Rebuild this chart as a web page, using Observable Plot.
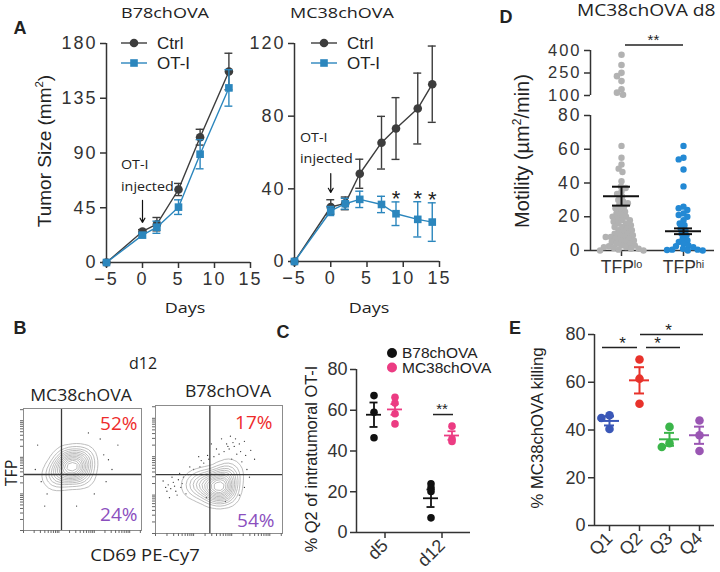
<!DOCTYPE html>
<html><head><meta charset="utf-8">
<script src="https://cdn.jsdelivr.net/npm/d3@7"></script>
<script src="https://cdn.jsdelivr.net/npm/@observablehq/plot@0.6"></script>
<style>
body{margin:0;background:#fff;}
#fig{position:relative;width:720px;height:572px;overflow:hidden;background:#fff;color:#222;}
#fig svg{position:absolute;left:0;top:0;}
.lbl{position:absolute;white-space:nowrap;line-height:1;}
.lbl sup{font-size:.6em;line-height:0;vertical-align:.7em;}
</style></head><body><div id="fig"></div>
<script>
// ---------------- DATA ----------------
// Panel A: tumor growth (mean, SEM)
const dayTicks = [-5, 0, 5, 10, 15];
const b78Days = [-5, 0, 2, 5, 8, 12];
const b78Ctrl = [0, 25.5, 31.5, 60, 103, 157];
const b78CtrlSem = [0, 1.5, 5.5, 5, 6.5, 15];
const b78OTI = [0, 22.5, 29, 45.5, 89, 143.5];
const b78OTISem = [0, 1.5, 5, 6, 12, 15];
const b78YTicks = [0, 45, 90, 135, 180];
const mc38Days = [-5, 0, 2, 4, 7, 9, 12, 14];
const mc38Ctrl = [0, 30, 32, 48.3, 65.4, 73.2, 84.2, 97.6];
const mc38CtrlSem = [0, 4, 3.5, 8, 14.5, 17, 19.5, 21];
const mc38OTI = [0, 27.8, 31.8, 34.2, 31.4, 26.3, 23.2, 21.7];
const mc38OTISem = [0, 2.5, 3, 4.5, 4.5, 6.5, 9.7, 10.6];
const mc38YTicks = [0, 40, 80, 120];
const mc38SigDays = [9, 12, 14];
const injectionDay = 0;
const seriesNames = ["Ctrl", "OT-I"];

// Panel B: flow contour populations (CD69 x, TFP y, arbitrary 0-100 units)
const mc38PopX = [41.5, 31.3, 50.0, 36.4, 49.1, 26.2];
const mc38PopY = [51.6, 47.5, 58.2, 59.0, 45.0, 43.4];
const mc38PopW = [3, 1.5, 1.5, 1, 1, 0.6];
const mc38EventX = [12, 18, 55, 68, 72, 75, 20, 60, 45, 80, 10, 65, 15, 70];
const mc38EventY = [70, 20, 80, 62, 58, 50, 30, 30, 20, 70, 50, 75, 40, 40];
const b78PopX = [51.2, 39.4, 29.9, 57.5, 55.1, 44.9];
const b78PopY = [37.5, 39.1, 37.5, 46.9, 32.0, 31.2];
const b78PopW = [3, 1.5, 0.8, 1.2, 1, 0.8];
const b78EventX = [10, 12, 14, 16, 18, 20, 22, 24, 13, 26, 8, 17, 30, 35, 38, 42, 46, 50, 54, 58, 62, 66, 70, 48, 56, 64, 60, 68, 72, 74, 70, 66, 40, 55, 75, 78, 34, 44, 52, 6, 11, 19, 27, 63, 59, 9, 15, 21, 36, 41, 57, 61, 67, 71];
const b78EventY = [38, 35, 40, 33, 42, 36, 44, 31, 44, 46, 36, 30, 50, 52, 55, 58, 60, 62, 64, 66, 68, 70, 72, 66, 70, 62, 58, 56, 50, 44, 36, 30, 28, 25, 65, 58, 60, 70, 74, 41, 28, 47, 52, 74, 76, 33, 37, 39, 57, 61, 68, 71, 64, 61];
const mc38Gate = [32.2, 45.9];
const b78Gate = [42.8, 46];
const mc38Pct = [52, 24];
const b78Pct = [17, 54];

// Panel C: % Q2 of intratumoral OT-I
const q2Days = ["d5", "d12"];
const q2B78d5 = [67.2, 59.0, 46.5];
const q2B78d12 = [23.9, 21.9, 20.1, 7.2];
const q2MC38d5 = [66.4, 63.5, 58.3, 53.3];
const q2MC38d12 = [52.2, 46.0, 44.7];
const q2B78Mean = [57.8, 16.8], q2B78Sem = [6.0, 4.3];
const q2MC38Mean = [60.4, 47.6], q2MC38Sem = [2.6, 2.1];
const q2Ticks = [0, 20, 40, 60, 80];

// Panel D: motility
const motGroups = ["TFPlo", "TFPhi"];
const motLoHigh = [372, 303, 251, 229, 196, 141, 119, 105];
const motLo = [62, 55, 51, 48.5, 46.5, 41, 38, 37, 35, 33.5, 32, 30, 29, 28, 27, 26, 25, 24, 23, 22, 21, 20, 20, 19, 18, 18, 17, 16, 16, 15, 14, 14, 13, 12, 12, 11, 10, 10, 9, 9, 8, 8, 8, 7, 7, 6, 6, 5, 5, 4, 4, 3, 3, 2.5, 2, 2, 1.5, 1, 1, 0.5, 0, 0];
const motHi = [62, 55, 54, 48, 38, 26, 25, 24, 22, 21, 20, 18, 16, 15, 13, 12, 10, 9, 7, 6, 5, 4, 3, 2.5, 2, 1, 0.5, 0.5, 0.3, 0, 0];
const motMean = [32.2, 11.4];
const motSem = [5.6, 1.7];
const motLowTicks = [0, 20, 40, 60, 80];
const motHighTicks = [100, 250, 400];

// Panel E: killing
const killGroups = ["Q1", "Q2", "Q3", "Q4"];
const killQ1 = [40.4, 46.2, 45.0];
const killQ2 = [69.5, 61.5, 51.0];
const killQ3 = [41.3, 34.5, 32.9];
const killQ4 = [44.0, 37.8, 31.2];
const killMean = [43.8, 60.8, 36.1, 37.8];
const killSem = [1.9, 5.5, 2.7, 3.6];
const killTicks = [0, 20, 40, 60, 80];

// ---------------- LAYOUT / STYLE ----------------
const W = 720, H = 572;
const fig = document.getElementById("fig");
const SANS = "'Liberation Sans', Arial, Helvetica, sans-serif";
const MYR = "'Open Sans', 'Noto Sans', sans-serif";
const AX = "#333";
const C_CTRL = "#3d3d3d", C_OTI = "#2b86bd";
const C_GRAY = "#b2b2b2", C_BLUE = "#2389d4";
const C_PINK = "#ec3c83";
const KILL_COLORS = ["#3a57b7", "#e8322b", "#3bb54a", "#9a56b3"];
const C_RED = "#ee2b2b", C_PURPLE = "#8b4fbe";

function frameAt(x0, x1, y0, y1) {
  return {width: W, height: H, marginLeft: x0, marginRight: W - x1, marginTop: y0, marginBottom: H - y1};
}
function style(size) {
  return {background: "transparent", fontFamily: SANS, fontSize: size + "px", color: AX, overflow: "visible"};
}
function mount(svg) { svg.style.position = "absolute"; svg.style.left = "0"; svg.style.top = "0"; fig.appendChild(svg); return svg; }
function spaceTicks(svg, px) {
  d3.select(svg).selectAll('g[aria-label="y-axis tick label"] text, g[aria-label="x-axis tick label"] text')
    .style("letter-spacing", px + "px");
}
function label(html, x, y, o = {}) {
  const d = document.createElement("div");
  d.className = "lbl";
  d.innerHTML = html;
  d.style.left = x + "px"; d.style.top = y + "px";
  d.style.fontSize = (o.size || 16) + "px";
  d.style.fontFamily = o.family || SANS;
  d.style.fontWeight = o.weight || 400;
  d.style.color = o.color || "#222";
  const tx = o.anchor === "start" ? "0" : o.anchor === "end" ? "-100%" : "-50%";
  d.style.transformOrigin = o.anchor === "start" ? "left center" : "center center";
  d.style.transform = `translate(${tx},-50%) rotate(${o.rotate || 0}deg) scaleX(${o.sx || 1})`;
  fig.appendChild(d);
}

// ---------------- PANEL A ----------------
function growth({days, ctrl, ctrlSem, oti, otiSem, yMax, yTicks, box, sigDays, arrowFrom, arrowTo}) {
  const CAP = 0.55;
  const marks = [
    Plot.ruleY([0], {stroke: AX, strokeWidth: 1.5}),
    Plot.ruleX([-5], {stroke: AX, strokeWidth: 1.5}),
    Plot.axisX(dayTicks, {tickSize: 6, tickPadding: 4, strokeWidth: 1.5, label: null}),
    Plot.axisY(yTicks, {tickSize: 6, tickPadding: 3, strokeWidth: 1.5, label: null})
  ];
  const series = [[seriesNames[0], ctrl, ctrlSem], [seriesNames[1], oti, otiSem]];
  let otiRows = [];
  for (const [name, vals, sems] of series) {
    const rows = days.map((d, i) => ({day: d, value: vals[i], sem: sems[i], series: name}));
    if (name === "OT-I") otiRows = rows;
    const err = rows.filter(r => r.sem > 0);
    marks.push(
      Plot.ruleX(err, {x: "day", y1: d => d.value - d.sem, y2: d => d.value + d.sem, stroke: "series", strokeWidth: 1.4}),
      Plot.ruleY(err, {y: d => d.value + d.sem, x1: d => d.day - CAP, x2: d => d.day + CAP, stroke: "series", strokeWidth: 1.4}),
      Plot.ruleY(err, {y: d => d.value - d.sem, x1: d => d.day - CAP, x2: d => d.day + CAP, stroke: "series", strokeWidth: 1.4}),
      Plot.line(rows, {x: "day", y: "value", stroke: "series", strokeWidth: 1.4}),
      Plot.dot(rows, {x: "day", y: "value", fill: "series", symbol: "series", r: 4.3})
    );
  }
  marks.push(Plot.arrow([injectionDay], {x1: d => d, x2: d => d, y1: arrowFrom, y2: arrowTo, stroke: "#111", strokeWidth: 1.2, headLength: 6}));
  if (sigDays) {
    marks.push(Plot.text(otiRows.filter(r => sigDays.includes(r.day)), {
      x: "day", y: d => d.value + d.sem, text: () => "*", dy: -3, fontSize: 22, fill: "#222"
    }));
  }
  const svg = Plot.plot({
    ...frameAt(...box),
    style: style(18),
    x: {domain: [-5, 15]},
    y: {domain: [0, yMax]},
    color: {domain: seriesNames, range: [C_CTRL, C_OTI]},
    symbol: {domain: seriesNames, range: ["circle", "square"]},
    marks
  });
  mount(svg);
  spaceTicks(svg, 2);
}
growth({days: b78Days, ctrl: b78Ctrl, ctrlSem: b78CtrlSem, oti: b78OTI, otiSem: b78OTISem,
  yMax: 180, yTicks: b78YTicks, box: [106, 250, 43, 262], arrowFrom: 51, arrowTo: 33});
growth({days: mc38Days, ctrl: mc38Ctrl, ctrlSem: mc38CtrlSem, oti: mc38OTI, otiSem: mc38OTISem,
  yMax: 120, yTicks: mc38YTicks, box: [294, 439, 43, 261], sigDays: mc38SigDays, arrowFrom: 48.4, arrowTo: 38});

// legends for A
function lineLegend(x0, y, name, color, shape) {
  const ns = "http://www.w3.org/2000/svg";
  const s = document.createElementNS(ns, "svg");
  s.setAttribute("width", 28); s.setAttribute("height", 12);
  s.style.cssText = `position:absolute;left:${x0}px;top:${y - 6}px;`;
  s.innerHTML = `<line x1="0" x2="26" y1="6" y2="6" stroke="${color}" stroke-width="1.4"/>` +
    (shape === "circle" ? `<circle cx="13" cy="6" r="4.3" fill="${color}"/>` : `<rect x="9.2" y="2.2" width="7.6" height="7.6" fill="${color}"/>`);
  fig.appendChild(s);
  label(name, x0 + 36, y, {anchor: "start", size: 17});
}
lineLegend(121, 43, "Ctrl", C_CTRL, "circle");
lineLegend(121, 63, "OT-I", C_OTI, "square");
lineLegend(311, 43, "Ctrl", C_CTRL, "circle");
lineLegend(311, 63, "OT-I", C_OTI, "square");

label("A", 20, 28, {size: 18, weight: 700});
label("B78chOVA", 165, 12, {family: MYR, size: 15, sx: 1.2});
label("MC38chOVA", 341.5, 12, {family: MYR, size: 15, sx: 1.2});
label("Tumor Size (mm<sup>2</sup>)", 44, 151, {size: 19, rotate: -90});
label("Days", 185, 307, {family: MYR, size: 15, sx: 1.2});
label("Days", 369, 307, {family: MYR, size: 15, sx: 1.2});
label("OT-I", 121, 164, {family: MYR, size: 13, sx: 1.1, anchor: "start"});
label("injected", 121, 186, {family: MYR, size: 13, sx: 1.1, anchor: "start"});
label("OT-I", 300, 137, {family: MYR, size: 13, sx: 1.1, anchor: "start"});
label("injected", 300, 157.5, {family: MYR, size: 13, sx: 1.1, anchor: "start"});

// ---------------- PANEL B ----------------
const flowTicks = [0, 30, 60, 90].flatMap(D => d3.range(1, 10).map(k => D + 30 * Math.log10(k))).filter(v => v <= 100);
function flow({box, popX, popY, popW, evX, evY, gate, pct, dTop, dBot}) {
  const pops = popX.map((x, i) => ({x, y: popY[i], w: popW[i]}));
  const events = evX.map((x, i) => ({x, y: evY[i]}));
  const svg = Plot.plot({
    ...frameAt(...box),
    style: style(19),
    x: {domain: [0, 100]},
    y: {domain: [0, 100]},
    marks: [
      Plot.dot(events, {x: "x", y: "y", r: 0.65, fill: "#333"}),
      Plot.density(pops, {x: "x", y: "y", weight: "w", bandwidth: 6.5, thresholds: 13, stroke: "#999", strokeWidth: 0.65}),
      Plot.ruleX([gate[0]], {stroke: "#3a3a3a", strokeWidth: 1.3}),
      Plot.ruleY([gate[1]], {stroke: "#3a3a3a", strokeWidth: 1.3}),
      Plot.frame({stroke: "#8c8c8c", strokeWidth: 1}),
      Plot.axisX(flowTicks, {tickSize: 3, tickFormat: () => "", label: null, stroke: "#666"}),
      Plot.axisY(flowTicks, {tickSize: 3, tickFormat: () => "", label: null, stroke: "#666"}),
      Plot.text([pct[0]], {frameAnchor: "top-right", lineAnchor: "top", text: d => d + "%", dx: dTop[0], dy: dTop[1], fill: C_RED, fontFamily: MYR, fontSize: 19}),
      Plot.text([pct[1]], {frameAnchor: "bottom-right", lineAnchor: "bottom", text: d => d + "%", dx: dBot[0], dy: dBot[1], fill: C_PURPLE, fontFamily: MYR, fontSize: 19})
    ]
  });
  mount(svg);
}
flow({box: [23, 141, 408, 530], popX: mc38PopX, popY: mc38PopY, popW: mc38PopW, evX: mc38EventX, evY: mc38EventY,
  gate: mc38Gate, pct: mc38Pct, dTop: [-4, 8], dBot: [-4, -10]});
flow({box: [155, 282, 405, 533], popX: b78PopX, popY: b78PopY, popW: b78PopW, evX: b78EventX, evY: b78EventY,
  gate: b78Gate, pct: b78Pct, dTop: [-10, 10], dBot: [-8, -7]});
label("B", 20, 328, {size: 18, weight: 700});
label("d12", 143, 363, {family: MYR, size: 16});
label("MC38chOVA", 80.5, 395, {family: MYR, size: 16, sx: 1.1});
label("B78chOVA", 227.5, 391, {family: MYR, size: 16, sx: 1.1});
label("TFP", 10.5, 473, {family: MYR, size: 16, rotate: -90});
label("CD69 PE-Cy7", 145, 555, {family: MYR, size: 16, sx: 1.15});

// ---------------- PANEL C ----------------
{
  const rowsB78 = [...q2B78d5.map(v => ({day: "d5", value: v})), ...q2B78d12.map(v => ({day: "d12", value: v}))];
  const rowsMC38 = [...q2MC38d5.map(v => ({day: "d5", value: v})), ...q2MC38d12.map(v => ({day: "d12", value: v}))];
  const sumB78 = q2Days.map((d, i) => ({day: d, mean: q2B78Mean[i], sem: q2B78Sem[i]}));
  const sumMC38 = q2Days.map((d, i) => ({day: d, mean: q2MC38Mean[i], sem: q2MC38Sem[i]}));
  const PXU = 28.5; // px per x unit inside a facet
  function grp(rows, sum, color, dxPx) {
    return [
      Plot.dot(rows, {fx: "day", x: 0, y: "value", r: 3.8, fill: color, dx: dxPx}),
      Plot.ruleY(sum, {fx: "day", y: "mean", x1: -7.5 / PXU, x2: 7.5 / PXU, stroke: color, strokeWidth: 1.8, dx: dxPx}),
      Plot.ruleX(sum, {fx: "day", x: 0, y1: d => d.mean - d.sem, y2: d => d.mean + d.sem, stroke: color, strokeWidth: 1.8, dx: dxPx}),
      Plot.ruleY(sum, {fx: "day", y: d => d.mean + d.sem, x1: -4 / PXU, x2: 4 / PXU, stroke: color, strokeWidth: 1.8, dx: dxPx}),
      Plot.ruleY(sum, {fx: "day", y: d => d.mean - d.sem, x1: -4 / PXU, x2: 4 / PXU, stroke: color, strokeWidth: 1.8, dx: dxPx})
    ];
  }
  const sig = [{day: "d12", y: 57.9, label: "**"}];
  const svg = Plot.plot({
    ...frameAt(356, 470, 369, 532),
    style: style(18),
    fx: {domain: q2Days, padding: 0, label: null},
    x: {domain: [-1, 1], axis: null},
    y: {domain: [0, 80]},
    marks: [
      Plot.ruleY([0], {stroke: AX, strokeWidth: 1.5}),
      Plot.ruleX([{day: "d5"}], {fx: "day", x: -1, y1: 0, y2: 80, stroke: AX, strokeWidth: 1.5}),
      Plot.axisY(q2Ticks, {anchor: "left", facetAnchor: "left", tickSize: 6, tickPadding: 3, strokeWidth: 1.5, label: null}),
      Plot.axisFx({anchor: "bottom", tickSize: 6, tickPadding: 4, strokeWidth: 1.5, tickRotate: -45, label: null}),
      ...grp(rowsB78, sumB78, "#111", -11),
      ...grp(rowsMC38, sumMC38, C_PINK, 10),
      Plot.ruleY(sig, {fx: "day", y: "y", x1: -8.5 / PXU, x2: 11.5 / PXU, stroke: "#222", strokeWidth: 1.5}),
      Plot.text(sig, {fx: "day", x: 0, y: "y", text: "label", dy: -5, fontSize: 15, fill: "#222"})
    ]
  });
  mount(svg);
}
label("C", 283, 332, {size: 18, weight: 700});
label("% Q2 of intratumoral OT-I", 311, 459, {size: 16.4, rotate: -90});
{
  const ns = "http://www.w3.org/2000/svg";
  const s = document.createElementNS(ns, "svg");
  s.setAttribute("width", 12); s.setAttribute("height", 30);
  s.style.cssText = "position:absolute;left:386px;top:347px;";
  s.innerHTML = `<circle cx="6" cy="6" r="5" fill="#111"/><circle cx="6" cy="20.5" r="5" fill="${C_PINK}"/>`;
  fig.appendChild(s);
  label("B78chOVA", 402, 352.5, {anchor: "start", size: 15.5});
  label("MC38chOVA", 402, 368, {anchor: "start", size: 15.5});
}

// ---------------- PANEL D ----------------
{
  const PXU = 31;
  const sumRows = motGroups.map((g, i) => ({group: g, mean: motMean[i], sem: motSem[i]}));
  const lowRows = [...motLo.map(v => ({group: motGroups[0], value: v})), ...motHi.map(v => ({group: motGroups[1], value: v}))];
  const highRows = motLoHigh.map(v => ({group: motGroups[0], value: v}));
  const common = {
    x: {domain: [-1, 1], axis: null},
    color: {domain: motGroups, range: [C_GRAY, C_BLUE]}
  };
  // upper (broken) segment
  const sig = [{group: motGroups[0], y: 437, label: "**"}];
  const up = Plot.plot({
    ...frameAt(590, 714, 50, 95),
    style: style(16.5),
    ...common,
    fx: {domain: motGroups, padding: 0, axis: null, label: null},
    y: {domain: [100, 400]},
    marks: [
      Plot.ruleX([{group: motGroups[0]}], {fx: "group", x: -1, y1: 100, y2: 400, stroke: AX, strokeWidth: 1.5}),
      Plot.axisY(motHighTicks, {anchor: "left", facetAnchor: "left", tickSize: 6, tickPadding: 3, strokeWidth: 1.5, label: null}),
      Plot.dot(highRows, Plot.dodgeX({anchor: "middle", padding: -1}, {fx: "group", y: "value", r: 3.3, fill: "group"})),
      Plot.ruleY(sig, {fx: "group", y: "y", x1: 4 / PXU, x2: 2, stroke: "#222", strokeWidth: 1.5}),
      Plot.text(sig, {fx: "group", x: 1.03, y: "y", text: "label", dy: -5, fontSize: 15, fill: "#222"})
    ]
  });
  mount(up);
  spaceTicks(up, 2);
  const low = Plot.plot({
    ...frameAt(590, 714, 115, 250),
    style: style(17.5),
    ...common,
    fx: {domain: motGroups, padding: 0, label: null},
    y: {domain: [0, 80]},
    marks: [
      Plot.ruleY([0], {stroke: AX, strokeWidth: 1.5}),
      Plot.ruleX([{group: motGroups[0]}], {fx: "group", x: -1, y1: 0, y2: 80, stroke: AX, strokeWidth: 1.5}),
      Plot.axisY(motLowTicks, {anchor: "left", facetAnchor: "left", tickSize: 6, tickPadding: 3, strokeWidth: 1.5, label: null}),
      Plot.axisFx({anchor: "bottom", tickSize: 6, tickPadding: 4, strokeWidth: 1.5, label: null}),
      Plot.dot(lowRows, Plot.dodgeX({anchor: "middle", padding: -1.3}, {fx: "group", y: "value", r: 3.2, fill: "group"})),
      Plot.ruleY(sumRows, {fx: "group", y: "mean", x1: -18 / PXU, x2: 18 / PXU, stroke: "#111", strokeWidth: 2}),
      Plot.ruleX(sumRows, {fx: "group", x: 0, y1: d => d.mean - d.sem, y2: d => d.mean + d.sem, stroke: "#111", strokeWidth: 2}),
      Plot.ruleY(sumRows, {fx: "group", y: d => d.mean + d.sem, x1: -9 / PXU, x2: 9 / PXU, stroke: "#111", strokeWidth: 2}),
      Plot.ruleY(sumRows, {fx: "group", y: d => d.mean - d.sem, x1: -9 / PXU, x2: 9 / PXU, stroke: "#111", strokeWidth: 2})
    ]
  });
  mount(low);
  spaceTicks(low, 2);
  d3.select(low).selectAll("text").each(function () {
    const t = this.textContent;
    if (t === "TFPlo" || t === "TFPhi") {
      this.textContent = "TFP";
      d3.select(this).append("tspan").attr("dy", "-0.45em").attr("font-size", "0.62em").text(t.slice(3));
    }
  });
}
label("D", 506, 17, {size: 18, weight: 700});
label("MC38chOVA d8", 577, 10, {family: MYR, size: 16, sx: 1.2, anchor: "start"});
label("Motility (µm<sup>2</sup>/min)", 522, 151, {size: 20, rotate: -90});

// ---------------- PANEL E ----------------
{
  const PXU = 15;
  const pts = [killQ1, killQ2, killQ3, killQ4].flatMap((vals, i) => vals.map(v => ({group: killGroups[i], value: v})));
  const sumRows = killGroups.map((g, i) => ({group: g, mean: killMean[i], sem: killSem[i]}));
  const idx = g => killGroups.indexOf(g);
  const sigE = [
    {from: "Q1", to: "Q2", y: 74.6, label: "*", s: -7, e: -2, lx: 13},
    {from: "Q2", to: "Q3", y: 74.6, label: "*", s: 7, e: 11, lx: 18},
    {from: "Q2", to: "Q4", y: 80, label: "*", s: 1, e: 4, lx: 29}
  ];
  const svg = Plot.plot({
    ...frameAt(594, 714, 334, 525),
    style: style(18),
    fx: {domain: killGroups, padding: 0, label: null},
    x: {domain: [-1, 1], axis: null},
    y: {domain: [0, 80]},
    color: {domain: killGroups, range: KILL_COLORS},
    marks: [
      Plot.ruleY([0], {stroke: AX, strokeWidth: 1.5}),
      Plot.ruleX([{group: "Q1"}], {fx: "group", x: -1, y1: 0, y2: 80, stroke: AX, strokeWidth: 1.5}),
      Plot.axisY(killTicks, {anchor: "left", facetAnchor: "left", tickSize: 6, tickPadding: 3, strokeWidth: 1.5, label: null}),
      Plot.axisFx({anchor: "bottom", tickSize: 6, tickPadding: 4, strokeWidth: 1.5, tickRotate: -45, label: null}),
      Plot.dot(pts, Plot.dodgeX({anchor: "middle", padding: 0}, {fx: "group", y: "value", r: 4.3, fill: "group"})),
      Plot.ruleY(sumRows, {fx: "group", y: "mean", x1: -10 / PXU, x2: 10 / PXU, stroke: "group", strokeWidth: 2}),
      Plot.ruleX(sumRows, {fx: "group", x: 0, y1: d => d.mean - d.sem, y2: d => d.mean + d.sem, stroke: "group", strokeWidth: 2}),
      Plot.ruleY(sumRows, {fx: "group", y: d => d.mean + d.sem, x1: -5 / PXU, x2: 5 / PXU, stroke: "group", strokeWidth: 2}),
      Plot.ruleY(sumRows, {fx: "group", y: d => d.mean - d.sem, x1: -5 / PXU, x2: 5 / PXU, stroke: "group", strokeWidth: 2}),
      Plot.ruleY(sigE, {fx: "from", y: "y", x1: d => d.s / PXU, x2: d => 2 * (idx(d.to) - idx(d.from)) + d.e / PXU, stroke: "#222", strokeWidth: 1.5}),
      Plot.text(sigE, {fx: "from", y: "y", x: d => d.lx / PXU, text: "label", dy: -4, fontSize: 17, fill: "#222"})
    ]
  });
  mount(svg);
}
label("E", 515, 328, {size: 18, weight: 700});
label("% MC38chOVA killing", 538, 428, {size: 16.7, rotate: -90});
</script></body></html>
